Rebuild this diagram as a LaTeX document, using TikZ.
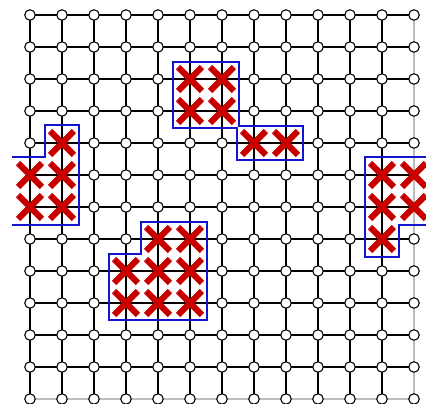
\documentclass[tikz,border=0pt]{standalone}
\usetikzlibrary{shapes.misc}
\definecolor{xred}{RGB}{200,0,0}
\definecolor{boxblue}{RGB}{20,20,205}
\definecolor{edgegray}{RGB}{190,190,190}
\begin{document}
\begin{tikzpicture}[x=1pt,y=-1pt,
  edge/.style={black,line width=1.4pt},
  grayedge/.style={edgegray,line width=2pt},
  vertex/.style={circle,draw=black,fill=white,line width=1.1pt,minimum size=10.5pt,inner sep=0pt},
  errnode/.style={cross out,draw=xred,line width=6.3pt,minimum size=17.5pt,inner sep=0pt},
  region/.style={boxblue,line width=1.9pt}]
\useasboundingbox (0,0) rectangle (426,404);
% lattice points
\foreach \i in {0,...,12}{
  \foreach \j in {0,...,12}{
    \coordinate (p-\i-\j) at ({30+32*\i},{15+32*\j});
  }
}
% horizontal edges
\foreach \j in {0,...,12}{
  \foreach \i in {0,...,11}{
    \pgfmathtruncatemacro{\k}{\i+1}
    \ifnum\j=12
      \draw[grayedge] (p-\i-\j) -- (p-\k-\j);
    \else
      \draw[edge] (p-\i-\j) -- (p-\k-\j);
    \fi
  }
}
% vertical edges
\foreach \i in {0,...,12}{
  \foreach \j in {0,...,11}{
    \pgfmathtruncatemacro{\k}{\j+1}
    \ifnum\i=12
      \draw[grayedge] (p-\i-\j) -- (p-\i-\k);
    \else
      \draw[edge] (p-\i-\j) -- (p-\i-\k);
    \fi
  }
}
% crossed (error) sites
\foreach \c in {1-4,0-5,1-5,0-6,1-6,
                5-2,6-2,5-3,6-3,7-4,8-4,
                11-5,12-5,11-6,12-6,11-7,
                4-7,5-7,3-8,4-8,5-8,3-9,4-9,5-9}{
  \expandafter\gdef\csname crossed-\c\endcsname{}
}
% vertices
\foreach \i in {0,...,12}{
  \foreach \j in {0,...,12}{
    \ifcsname crossed-\i-\j\endcsname
      \node[errnode] (v-\i-\j) at (p-\i-\j) {};
    \else
      \node[vertex] (v-\i-\j) at (p-\i-\j) {};
    \fi
  }
}
% blue boundaries
\draw[region] (12,157) -- (45,157) -- (45,125) -- (79,125) -- (79,225) -- (12,225);
\draw[region] (173,62) -- (239,62) -- (239,126) -- (303,126) -- (303,160) -- (237,160) -- (237,128) -- (173,128) -- cycle;
\draw[region] (426,157) -- (365,157) -- (365,257) -- (399,257) -- (399,225) -- (426,225);
\draw[region] (141,222) -- (207,222) -- (207,320) -- (109,320) -- (109,254) -- (141,254) -- cycle;
\end{tikzpicture}
\end{document}
